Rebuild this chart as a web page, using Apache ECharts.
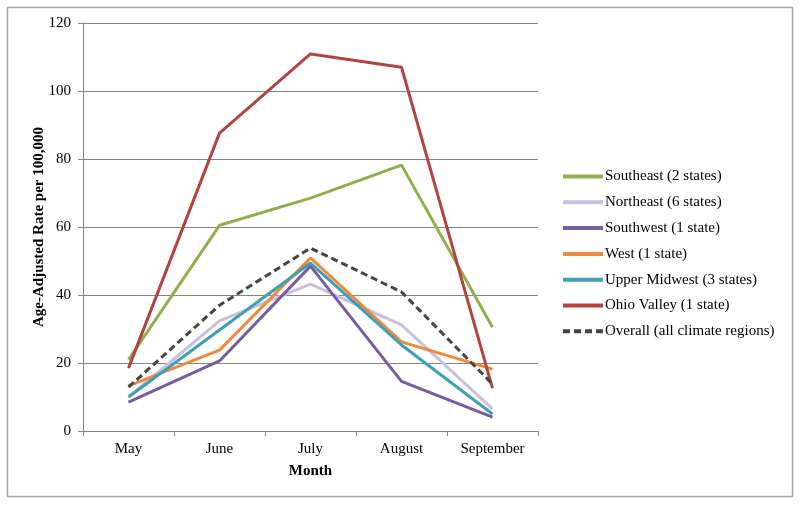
<!DOCTYPE html>
<html><head><meta charset="utf-8">
<script src="https://cdn.jsdelivr.net/npm/echarts@6/dist/echarts.min.js"></script>
<style>html,body{margin:0;padding:0;background:#fff}#c{width:800px;height:505px}</style>
</head><body><div id="c"></div>
<script>
var months = ["May", "June", "July", "August", "September"];
var southeast = [21, 60.5, 68.5, 78.2, 30.5];
var northeast = [10, 32.4, 43.2, 31.2, 6.5];
var southwest = [8.5, 20.6, 48.5, 14.6, 4.1];
var west = [13.3, 23.8, 50.9, 26.2, 18.2];
var upperMidwest = [10, 29.7, 49.4, 25.3, 5];
var ohioValley = [18.5, 87.6, 110.9, 107, 12.6];
var overall = [12.9, 37, 53.8, 40.9, 13.8];
var yTicks = [0, 20, 40, 60, 80, 100, 120];

var font = "'Liberation Serif','Times New Roman',serif";
function s(name, data, color, dashed) {
  return {
    name: name, type: 'line', data: data, symbol: 'none',
    lineStyle: { color: color, width: 3, type: dashed ? [7, 4] : 'solid' },
    itemStyle: { color: color },
    emphasis: { disabled: true }
  };
}
var chart = echarts.init(document.getElementById('c'), null, { renderer: 'canvas' });
chart.setOption({
  animation: false,
  graphic: [{ type: 'rect', shape: { x: 7.5, y: 7.5, width: 785, height: 489 },
    style: { fill: 'none', stroke: '#a6a6a6', lineWidth: 1.5 } }],
  grid: { left: 83, right: 262, top: 23, bottom: 74, containLabel: false },
  legend: {
    orient: 'vertical', left: 556, top: 164, itemWidth: 40, itemHeight: 14, itemGap: 10.8,
    itemStyle: { opacity: 0 },
    lineStyle: { width: 4 },
    textStyle: { fontFamily: font, fontSize: 15, color: '#000', padding: [0, 0, 0, -3] },
    selectedMode: false
  },
  xAxis: {
    type: 'category', data: months, boundaryGap: true,
    name: 'Month', nameLocation: 'middle', nameGap: 33, nameMoveOverlap: false,
    nameTextStyle: { fontFamily: font, fontSize: 15, fontWeight: 'bold', color: '#000' },
    axisLine: { lineStyle: { color: '#868686', width: 1 } },
    axisTick: { show: true, length: 5, lineStyle: { color: '#868686' } },
    axisLabel: { fontFamily: font, fontSize: 15, color: '#000', margin: 11 }
  },
  yAxis: {
    type: 'value', min: 0, max: 120, interval: 20,
    name: 'Age-Adjusted Rate per 100,000', nameLocation: 'middle', nameGap: 36, nameRotate: 90,
    nameMoveOverlap: false,
    nameTextStyle: { fontFamily: font, fontSize: 15, fontWeight: 'bold', color: '#000' },
    axisLine: { show: true, lineStyle: { color: '#868686', width: 1 } },
    axisTick: { show: true, length: 5, lineStyle: { color: '#868686' } },
    axisLabel: { fontFamily: font, fontSize: 15, color: '#000', margin: 12,
      formatter: function (v) { return yTicks.indexOf(v) >= 0 ? String(v) : ''; } },
    splitLine: { lineStyle: { color: '#868686', width: 1 } }
  },
  series: [
    s('Southeast (2 states)', southeast, '#8fb04c'),
    s('Northeast (6 states)', northeast, '#cbc0dc'),
    s('Southwest (1 state)', southwest, '#7a5c9e'),
    s('West (1 state)', west, '#ef8a3c'),
    s('Upper Midwest (3 states)', upperMidwest, '#3f9fb7'),
    s('Ohio Valley (1 state)', ohioValley, '#b5423f'),
    s('Overall (all climate regions)', overall, '#454545', true)
  ]
});
</script></body></html>
